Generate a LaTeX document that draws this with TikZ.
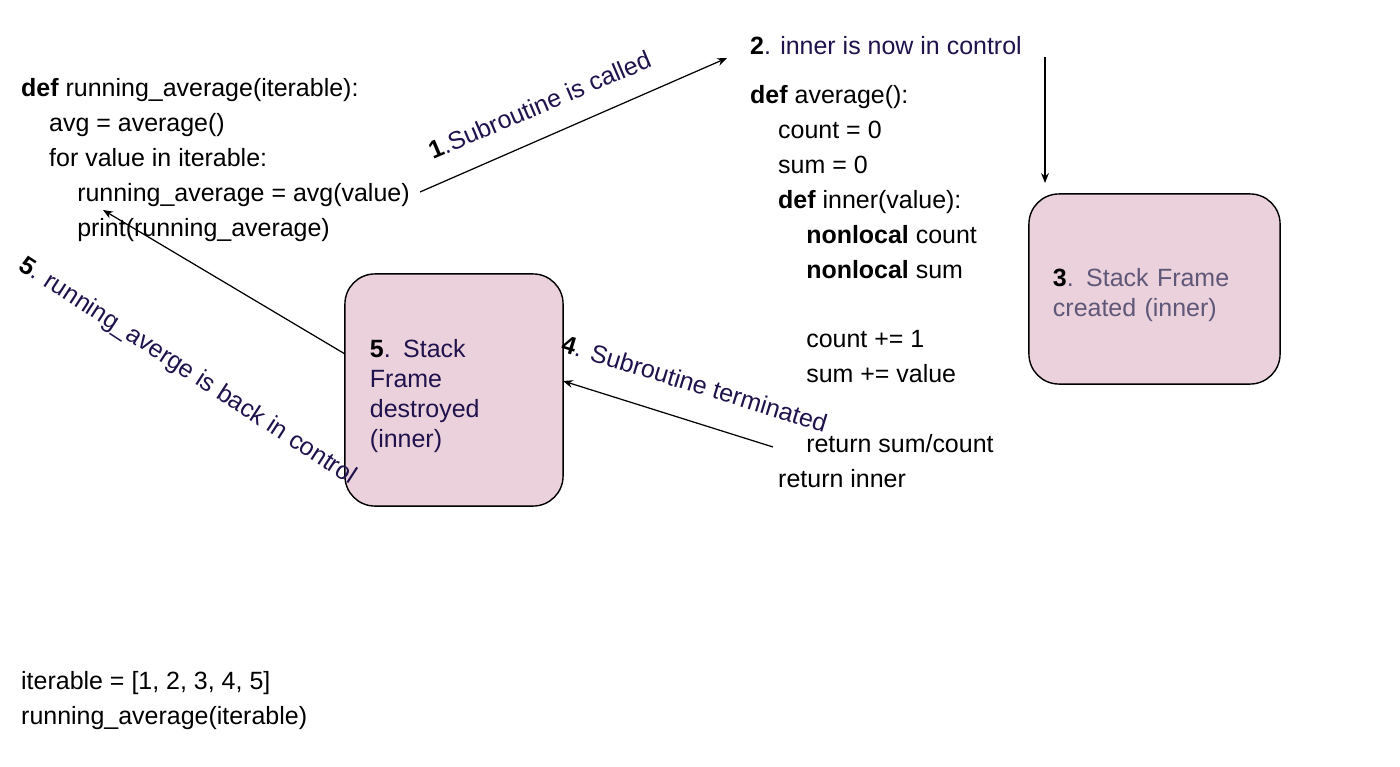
\documentclass[tikz,border=0pt]{standalone}
\usepackage{fontspec}
\setmainfont{Liberation Sans}
\usetikzlibrary{arrows.meta}
\usepackage{xcolor}
\definecolor{framepink}{HTML}{EAD1DC}
\definecolor{labelnavy}{HTML}{20124D}
\definecolor{framegrey}{HTML}{5F5778}
\newcommand{\codeindent}{\hspace*{7.97pt}}
\newcommand{\framestrut}{\rule{0pt}{8.5pt}}
\tikzset{
  code/.style={anchor=north west,inner sep=0pt,align=left,font=\fontsize{7.1}{9.92}\selectfont},
  steplabel/.style={anchor=base,inner sep=0pt,text=labelnavy,font=\fontsize{7.1}{8.5}\selectfont},
  stackframe/.style={draw=black,line width=0.4pt,fill=framepink,rounded corners=0.3cm,align=left,inner ysep=0pt,font=\fontsize{7.1}{8.53}\selectfont},
  flow/.style={-{Stealth[length=2.8pt,width=2.2pt]},line width=0.35pt}
}
\begin{document}
\begin{tikzpicture}[x=0.01cm,y=-0.01cm]
  \fill[white] (0,0) rectangle (1400,767);
  \useasboundingbox (0,0) rectangle (1400,767);
  % code of the caller
  \node[code] (outer) at (20.5,78) {\textbf{def} running\_average(iterable):\\
    \codeindent avg = average()\\
    \codeindent for value in iterable:\\
    \codeindent\codeindent running\_average = avg(value)\\
    \codeindent\codeindent print(running\_average)};
  \node[code] (call) at (20.5,671) {iterable = [1, 2, 3, 4, 5]\\
    running\_average(iterable)};
  % code of the coroutine
  \node[code,text=labelnavy] (step2) at (749.5,36) {\textcolor{black}{\textbf{2}}. inner is now in control};
  \node[code] (avgdef) at (749.5,85) {\textbf{def} average():\\
    \codeindent count = 0\\
    \codeindent sum = 0\\
    \codeindent\textbf{def} inner(value):\\
    \codeindent\codeindent\textbf{nonlocal} count\\
    \codeindent\codeindent\textbf{nonlocal} sum\\
    \mbox{}\\
    \codeindent\codeindent count += 1\\
    \codeindent\codeindent sum += value\\
    \mbox{}\\
    \codeindent\codeindent return sum/count\\
    \codeindent return inner};
  % stack frames
  \node[stackframe,text=framegrey,minimum width=2.51cm,minimum height=1.9cm,text width=2.03cm,inner xsep=0.24cm] (frame3) at (1154.5,289) {\framestrut\textcolor{black}{\textbf{3}}. Stack Frame\\
    created (inner)};
  \node[stackframe,text=labelnavy,minimum width=2.18cm,minimum height=2.32cm,text width=1.68cm,inner xsep=0.25cm] (frame5) at (454,390) {\framestrut\textcolor{black}{\textbf{5}}. Stack\\
    Frame\\
    destroyed\\
    (inner)};
  % arrows
  \coordinate (callout) at (420,192);
  \coordinate (callin) at (727,58);
  \coordinate (ctrltop) at (1045,57);
  \coordinate (ctrlend) at (1045,183);
  \coordinate (retstart) at (773,447);
  \coordinate (retend) at (563,381);
  \coordinate (backstart) at (345,354);
  \coordinate (backend) at (103,210);
  \draw[flow] (callout) -- (callin);
  \draw[flow] (ctrltop) -- (ctrlend);
  \draw[flow] (retstart) -- (retend);
  \draw[flow] (backstart) -- (backend);
  % step labels
  \node[steplabel,rotate=23] (step1) at (543,113) {\textcolor{black}{\textbf{1}}.Subroutine is called};
  \node[steplabel,rotate=-17] (step4) at (692,392) {\textcolor{black}{\textbf{4}}. Subroutine terminated};
  \node[steplabel,rotate=-33] (step5) at (184,377) {\textcolor{black}{\textbf{5}}. running\_averge is back in control};
\end{tikzpicture}
\end{document}
